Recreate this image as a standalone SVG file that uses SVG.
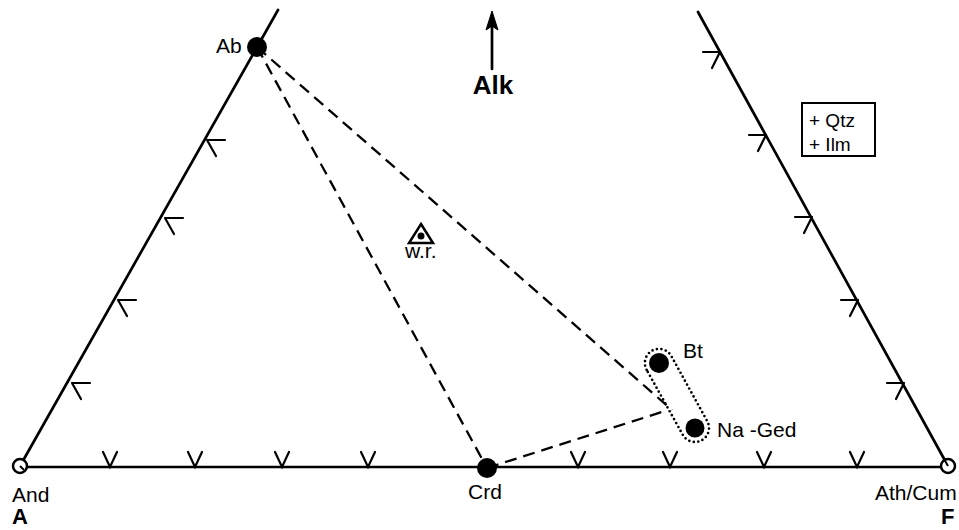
<svg xmlns="http://www.w3.org/2000/svg" width="959" height="530" viewBox="0 0 959 530">
<defs>
<style>
.edge{stroke:#000;stroke-width:2.7;fill:none;stroke-linecap:round}
.tick{stroke:#000;stroke-width:2.2;fill:none;stroke-linecap:round;stroke-linejoin:miter}
.dash{stroke:#000;stroke-width:2.3;fill:none;stroke-dasharray:12 7}
.dot{stroke:#000;stroke-width:2.7;fill:none;stroke-dasharray:0 4.5;stroke-linecap:round}
.lbl{font-family:"Liberation Sans",Arial,sans-serif;font-size:21px;fill:#000}
.big{font-family:"Liberation Sans",Arial,sans-serif;font-size:22px;font-weight:bold;fill:#000}
.pt{fill:#000}
.open{fill:#fff;stroke:#000;stroke-width:2.5}
</style>
</defs>
<rect width="959" height="530" fill="#fff"/>
<g id="frame">
<line class="edge" x1="20" y1="466" x2="278" y2="10"/>
<line class="edge" x1="948" y1="466" x2="698" y2="12"/>
<line class="edge" x1="20" y1="467" x2="948" y2="467"/>
</g>
<g id="ticks">
<path class="tick" d="M72,383 h18 M72,383 l9,16"/>
<path class="tick" d="M118,300 h18 M118,300 l9,16"/>
<path class="tick" d="M165,218 h18 M165,218 l9,16"/>
<path class="tick" d="M207,140 h18 M207,140 l9,16"/>
<path class="tick" d="M720,52 h-17 M720,52 l-8,16"/>
<path class="tick" d="M766,135 h-17 M766,135 l-8,16"/>
<path class="tick" d="M812,217 h-17 M812,217 l-8,16"/>
<path class="tick" d="M858,300 h-17 M858,300 l-8,16"/>
<path class="tick" d="M904,383 h-17 M904,383 l-8,16"/>
<path class="tick" d="M103,452 L110,467 L117,452"/>
<path class="tick" d="M188,452 L195,467 L202,452"/>
<path class="tick" d="M275,452 L282,467 L289,452"/>
<path class="tick" d="M361,452 L368,467 L375,452"/>
<path class="tick" d="M571,452 L578,467 L585,452"/>
<path class="tick" d="M663,452 L670,467 L677,452"/>
<path class="tick" d="M757,452 L764,467 L771,452"/>
<path class="tick" d="M850,452 L857,467 L864,452"/>
</g>
<g id="connectors">
<line class="dash" x1="257" y1="47" x2="487" y2="468"/>
<line class="dash" x1="257" y1="47" x2="672" y2="410"/>
<line class="dash" x1="487" y1="468" x2="665" y2="411"/>
<line class="edge" x1="492" y1="69" x2="492" y2="26"/>
<path d="M492,11 L498,30 L492,26 L486,30 Z" fill="#000" stroke="#000" stroke-width="1" stroke-linejoin="miter"/>
</g>
<g id="bt-ged-field">
<path class="dot" d="M646.6,369.8 A14,14 0 0 1 671.4,356.2 L707.3,421.3 A14,14 0 0 1 682.7,434.7 Z"/>
</g>
<g id="Ab">
<circle class="pt" cx="257" cy="47" r="10"/>
<text class="lbl" x="216" y="53">Ab</text>
</g>
<g id="Crd">
<circle class="pt" cx="487" cy="468" r="10"/>
<text class="lbl" x="468" y="499">Crd</text>
</g>
<g id="Bt">
<circle class="pt" cx="659" cy="363" r="10"/>
<text class="lbl" x="683" y="358">Bt</text>
</g>
<g id="NaGed">
<circle class="pt" cx="695" cy="428" r="9.5"/>
<text class="lbl" x="717" y="437">Na -Ged</text>
</g>
<g id="wr">
<path d="M421,224 L433,243 L409,243 Z" fill="none" stroke="#000" stroke-width="2.5" stroke-linejoin="miter"/>
<circle class="pt" cx="421" cy="236" r="3.5"/>
<text class="lbl" x="405" y="258">w.r.</text>
</g>
<g id="And">
<circle class="open" cx="20" cy="466" r="7"/>
<line x1="20" y1="466" x2="24" y2="470" stroke="#000" stroke-width="2"/>
<text class="lbl" x="12" y="502">And</text>
<text class="big" x="12" y="524">A</text>
</g>
<g id="AthCum">
<circle class="open" cx="948" cy="466" r="7"/>
<line x1="948" y1="466" x2="944" y2="459" stroke="#000" stroke-width="2"/>
<text class="lbl" x="875" y="500">Ath/Cum</text>
<text class="big" x="941" y="524">F</text>
</g>
<g id="Alk">
<text class="big" x="493" y="94" text-anchor="middle" style="font-size:26px">Alk</text>
</g>
<g id="phases">
<rect x="802" y="103" width="73" height="53" fill="none" stroke="#000" stroke-width="2"/>
<text class="lbl" x="809" y="127" style="font-size:19px">+ Qtz</text>
<text class="lbl" x="809" y="151" style="font-size:19px">+ Ilm</text>
</g>
</svg>
